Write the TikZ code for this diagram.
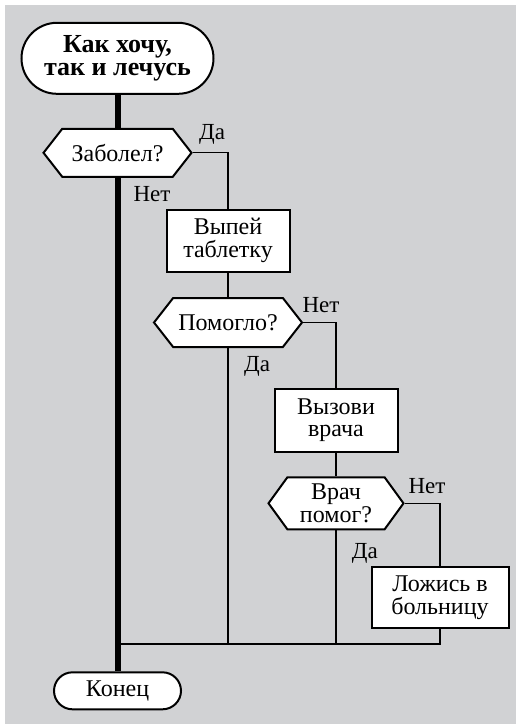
\documentclass[tikz,border=0pt]{standalone}
\usepackage{fontspec}
\setmainfont{Liberation Serif}
\usetikzlibrary{shapes.misc,shapes.symbols}
\definecolor{panelgray}{RGB}{209,210,212}
\begin{document}
\begin{tikzpicture}[x=1pt,y=-1pt,
  every node/.style={inner sep=0pt},
  txt/.style={font=\fontsize{24}{22.5}\selectfont, align=center},
  lbl/.style={font=\fontsize{23}{23}\selectfont, anchor=base west},
  term/.style={txt, draw, fill=white, line width=2pt, rounded rectangle},
  act/.style={txt, draw, fill=white, line width=2pt, rectangle},
  ask/.style={txt, draw, fill=white, line width=2pt, signal,
    signal to=west and east, signal pointer angle=#1},
  ask/.default=104,
  flow/.style={line width=1.3pt},
  mainflow/.style={line width=6pt}]
  % background panel
  \useasboundingbox (0,0) rectangle (516,724);
  \fill[panelgray] (5,5) rectangle (516,724);

  % draw blocks
  \node[term, font=\bfseries\fontsize{26}{23.5}\selectfont,
    minimum width=192pt, minimum height=71pt] (start) at (117.5,58.3) {Как хочу,\\так и лечусь};
  \node[ask, minimum width=148pt, minimum height=48pt] (ill) at (117.5,152.8) {Заболел?};
  \node[act, minimum width=123pt, minimum height=62pt] (pill) at (228,240.5) {Выпей\\таблетку};
  \node[ask, minimum width=148pt, minimum height=49pt] (helped) at (228,322.5) {Помогло?};
  \node[act, minimum width=123pt, minimum height=63pt] (doctor) at (336,420) {Вызови\\врача};
  \node[ask=108, font=\fontsize{24}{23}\selectfont,
    minimum width=135pt, minimum height=52pt] (cured) at (336,503.3) {Врач\\помог?};
  \node[act, minimum width=137pt, minimum height=61pt] (hospital) at (440,597.8) {Ложись в\\больницу};
  \node[term, minimum width=127pt, minimum height=37pt] (stop) at (117.5,690.8) {Конец};

  % draw flow lines
  \coordinate (merge) at (117.5,644);
  \draw[mainflow] (start.south) -- (ill.north);
  \draw[mainflow] (ill.south) -- (stop.north);
  \draw[flow] (ill.east) -| (pill.north);
  \draw[flow] (pill.south) -- (helped.north);
  \draw[flow] (helped.east) -| (doctor.north);
  \draw[flow] (doctor.south) -- (cured.north);
  \draw[flow] (cured.east) -| (hospital.north);
  \draw[flow] (helped.south) -- (helped.south |- merge);
  \draw[flow] (cured.south) -- (cured.south |- merge);
  \draw[flow] (hospital.south) |- (merge);

  % branch labels
  \node[lbl] (illyes) at (199,139.3) {Да};
  \node[lbl] (illno) at (133.3,201) {Нет};
  \node[lbl] (helpedno) at (302.3,312.7) {Нет};
  \node[lbl] (helpedyes) at (244,371.7) {Да};
  \node[lbl] (curedno) at (408.3,493.3) {Нет};
  \node[lbl] (curedyes) at (351.7,558.3) {Да};
\end{tikzpicture}
\end{document}
